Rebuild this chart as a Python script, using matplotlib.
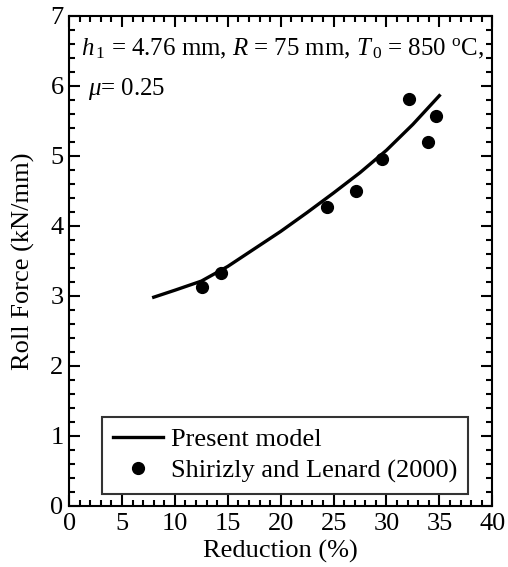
import numpy as np
import matplotlib
matplotlib.use("Agg")
import matplotlib.pyplot as plt
from matplotlib.ticker import MultipleLocator

plt.rcParams['font.family'] = ['Liberation Serif', 'DejaVu Serif']
plt.rcParams['mathtext.fontset'] = 'custom'
plt.rcParams['mathtext.rm'] = 'Liberation Serif'
plt.rcParams['mathtext.it'] = 'Liberation Serif:italic'

# Present model (line)
model_red = [8, 10, 12.5, 15, 17.5, 20, 22.5, 25, 27.5, 30, 32.5, 35]
model_force = [2.98, 3.08, 3.21, 3.42, 3.67, 3.92, 4.19, 4.47, 4.76, 5.08, 5.45, 5.86]

# Shirizly and Lenard (2000) measurements
exp_red = [12.6, 14.4, 24.4, 27.1, 29.6, 32.1, 33.9, 34.7]
exp_force = [3.12, 3.33, 4.27, 4.50, 4.95, 5.81, 5.20, 5.57]

fig = plt.figure(figsize=(5.08, 5.67), dpi=100)
ax = fig.add_axes([0.136, 0.108, 0.833, 0.864])

ax.plot(model_red, model_force, color='black', lw=2.4, label='Present model')
ax.plot(exp_red, exp_force, 'o', color='black', ms=8.5, label='Shirizly and Lenard (2000)')

ax.set_xlim(0, 40)
ax.set_ylim(0, 7)
ax.xaxis.set_major_locator(MultipleLocator(5))
ax.xaxis.set_minor_locator(MultipleLocator(1))
ax.yaxis.set_major_locator(MultipleLocator(1))
ax.yaxis.set_minor_locator(MultipleLocator(0.2))
ax.tick_params(which='both', direction='in', top=True, right=True, width=1.5)
ax.tick_params(which='major', length=8, labelsize=19)
ax.tick_params(axis='y', which='major', pad=4)
ax.tick_params(axis='x', which='major', pad=5)
ax.tick_params(which='minor', length=4)
for s in ax.spines.values():
    s.set_linewidth(1.5)

ax.set_xlabel('Reduction (%)', fontsize=19, labelpad=4)
ax.set_ylabel('Roll Force (kN/mm)', fontsize=19, labelpad=11)

ax.text(0.029, 0.92, r'$h_{\,1}$ = 4.76 mm, $R$ = 75 mm, $T_{\,0}$ = 850 $^{\rm o}$C,',
        transform=ax.transAxes, fontsize=17.9, va='baseline', ha='left')
ax.text(0.045, 0.838, r'$\mu$= 0.25', transform=ax.transAxes, fontsize=17.9,
        va='baseline', ha='left')

leg = ax.legend(loc='lower left', bbox_to_anchor=(0.078, 0.025), fontsize=19,
                frameon=True, fancybox=False, edgecolor='black', handlelength=1.9,
                handletextpad=0.3, borderpad=0.4, labelspacing=0.3, borderaxespad=0)
leg.get_frame().set_linewidth(1.5)

fig.savefig('out.png', dpi=100)
